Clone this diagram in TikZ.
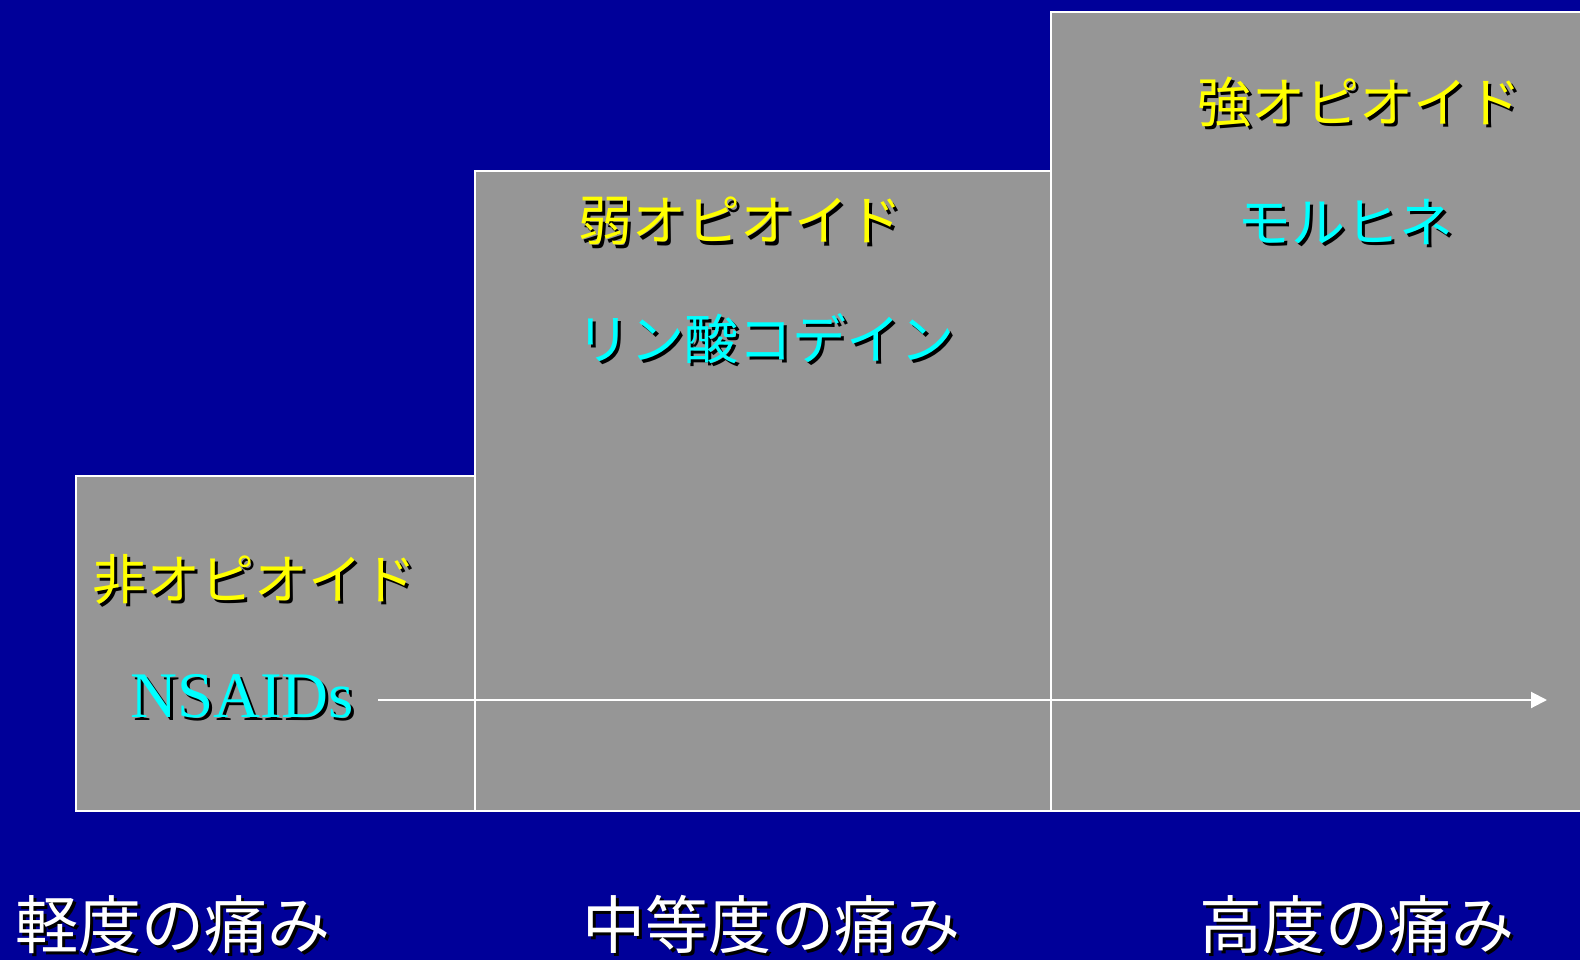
\documentclass[tikz,border=0pt]{standalone}
\usepackage{fontspec}
\newfontfamily\cjk{Noto Sans CJK JP}
\newfontfamily\tnr{Liberation Serif}
\usetikzlibrary{arrows.meta}
\definecolor{bgblue}{RGB}{0,0,153}
\definecolor{boxgray}{RGB}{150,150,150}
\definecolor{ylw}{RGB}{255,255,0}
\definecolor{cyn}{RGB}{0,255,255}
\tikzset{
  stepbox/.style={fill=boxgray, draw=white, line width=2pt},
  lbl/.style={inner sep=0pt, anchor=base west},
  boxtxt/.style={lbl, font=\cjk\fontsize{54}{60}\selectfont},
  lvltxt/.style={lbl, font=\cjk\fontsize{63}{70}\selectfont, text=white},
  drugtxt/.style={lbl, font=\tnr\fontsize{65}{70}\selectfont},
}
\newcommand\shtext[5]{%
  \node[#1, text=black] (#2-sh) at (#3+3,#4+3) {#5};
  \node[#1] (#2) at (#3,#4) {#5};}
\begin{document}
\begin{tikzpicture}[x={(1pt,0pt)}, y={(0pt,-1pt)}]
\useasboundingbox (0,0) rectangle (1580,960);
\clip (0,0) rectangle (1580,960);
\fill[bgblue] (0,0) rectangle (1580,960);
% steps
\draw[stepbox] (76,476) rectangle (475,811);
\draw[stepbox] (475,171) rectangle (1051,811);
\draw[stepbox] (1051,12) rectangle (1600,811);
% arrow
\coordinate (arrS) at (378,700);
\coordinate (arrE) at (1547,700);
\draw[white, line width=2pt, -{Triangle[length=16pt,width=16pt]}] (arrS) -- (arrE);
% texts
\shtext{boxtxt, text=ylw}{non}{92}{599}{非オピオイド}
\shtext{drugtxt, text=cyn}{nsaid}{130}{717}{NSAIDs}
\shtext{boxtxt, text=ylw}{weak}{578}{241}{弱オピオイド}
\shtext{boxtxt, text=cyn}{cod}{576}{359}{リン酸コデイン}
\shtext{boxtxt, text=ylw}{strong}{1197}{123}{強オピオイド}
\shtext{boxtxt, text=cyn}{mor}{1237}{243}{モルヒネ}
\shtext{lvltxt}{mild}{15}{948}{軽度の痛み}
\shtext{lvltxt}{mod}{582}{948}{中等度の痛み}
\shtext{lvltxt}{sev}{1199}{948}{高度の痛み}
\end{tikzpicture}
\end{document}
